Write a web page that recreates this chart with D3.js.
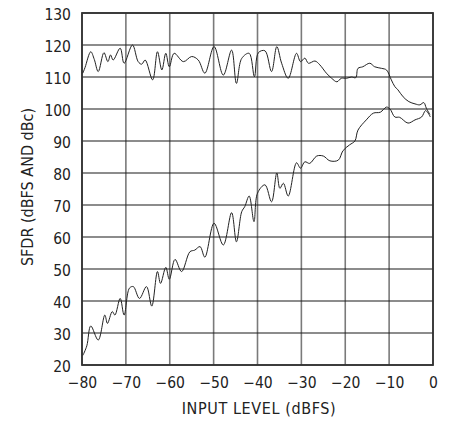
<!DOCTYPE html>
<html>
<head>
<meta charset="utf-8">
<script src="https://cdn.jsdelivr.net/npm/d3@7"></script>
<style>
  body { margin: 0; background: #fff; }
  svg text { font-family: "DejaVu Sans Condensed", "Liberation Sans", Arial, sans-serif; fill: #222; }
</style>
</head>
<body>
<svg id="chart" width="449" height="421"></svg>
<script>
// SFDR in dBFS (upper trace)
var levelUpper = [-79.8,-79.3,-78.0,-77.2,-76.3,-75.0,-74.1,-73.5,-72.9,-71.3,-70.4,-68.5,-67.2,-66.4,-65.6,-63.9,-62.8,-61.8,-60.9,-60.1,-59.0,-56.9,-55.0,-53.5,-52.0,-49.9,-47.8,-45.9,-44.8,-43.6,-41.9,-40.7,-39.8,-38.3,-36.8,-35.6,-34.5,-33.0,-31.1,-30.2,-29.2,-28.4,-26.9,-25.8,-24.3,-23.1,-21.9,-20.9,-19.7,-18.6,-17.6,-17.1,-16.0,-14.4,-13.3,-11.7,-10.6,-9.5,-8.7,-8.0,-6.8,-5.5,-4.1,-3.0,-2.1,-1.5,-0.7];
var sfdrUpper  = [111.2,113,117.9,115.5,111.7,117.6,114.8,116.9,115.3,119,114.3,120,114.8,114,115.3,109.1,117.9,112.2,117.4,113.2,117.4,114.8,116.4,115.3,111.2,119.5,110.6,118.4,108,115.8,117.4,110.1,117.6,118.2,111.7,119.5,114.3,109.6,117.4,114.8,115.9,114.3,115,113.8,111.2,109.6,108.5,109.6,109.6,110,109.8,112.7,113.2,114.3,113.2,112.7,112.2,109.1,107,106,103.8,102.3,101.6,101.3,102,100.2,98.3];

// SFDR in dBc (lower trace)
var levelLower = [-79.8,-78.9,-78.0,-76.3,-74.8,-74.2,-73.1,-72.5,-71.3,-70.4,-69.2,-68.3,-66.9,-65.3,-64.1,-62.8,-62.1,-60.9,-60.1,-58.8,-57.3,-55.4,-54.3,-53.1,-52.0,-49.9,-47.8,-45.9,-44.8,-43.6,-42.9,-41.9,-40.8,-40.0,-38.3,-36.8,-35.6,-34.9,-34.1,-33.0,-31.1,-30.2,-29.2,-28.1,-26.5,-25.0,-23.5,-21.6,-20.5,-19.0,-17.8,-17.1,-15.2,-13.6,-12.0,-10.6,-9.8,-8.7,-7.6,-5.7,-4.1,-2.6,-1.7,-1.0,-0.6];
var sfdrLower  = [23,26,32.2,27.8,35.6,33,36.7,35.6,40.8,35.6,44,44.5,40.8,44.5,38.4,49.2,45.5,50.5,46.8,53,49.2,55.4,55.9,57,53.7,64.3,57.5,67.6,58.5,67.9,69.5,72.8,64.8,73.7,76.3,71,80,75.2,76.8,72.8,83.2,81.5,83.5,83,85.3,85.3,83.8,84,87,88.8,90,93.4,96.6,98.7,99,100.6,100,97.5,97.4,95.6,96.6,97.5,99.5,98.5,97.5];

var xTicks = [-80,-70,-60,-50,-40,-30,-20,-10,0];
var yTicks = [20,30,40,50,60,70,80,90,100,110,120,130];

var margin = {top: 13, right: 16, bottom: 56, left: 82};
var svg = d3.select("#chart");
var width = +svg.attr("width") - margin.left - margin.right;
var height = +svg.attr("height") - margin.top - margin.bottom;

var g = svg.append("g").attr("transform", "translate(" + margin.left + "," + margin.top + ")");

var x = d3.scaleLinear().domain([-80, 0]).range([0, width]);
var y = d3.scaleLinear().domain([20, 130]).range([height, 0]);

// grid
g.selectAll(".vgrid").data(xTicks).enter().append("line")
    .attr("x1", function(d) { return x(d); }).attr("x2", function(d) { return x(d); })
    .attr("y1", 0).attr("y2", height)
    .attr("stroke", "#7a7a7a").attr("stroke-width", 1.6);

g.selectAll(".hgrid").data(yTicks).enter().append("line")
    .attr("x1", 0).attr("x2", width)
    .attr("y1", function(d) { return y(d); }).attr("y2", function(d) { return y(d); })
    .attr("stroke", "#1a1a1a").attr("stroke-width", 1.1);

g.append("rect")
    .attr("width", width).attr("height", height)
    .attr("fill", "none").attr("stroke", "#333").attr("stroke-width", 1.8);

// axes, labels only
var xAxis = g.append("g").attr("transform", "translate(0," + height + ")")
    .call(d3.axisBottom(x).tickValues(xTicks).tickSize(0).tickPadding(12)
        .tickFormat(function(d) { return d === 0 ? "0" : "\u2212" + Math.abs(d); }));
var yAxis = g.append("g")
    .call(d3.axisLeft(y).tickValues(yTicks).tickSize(0).tickPadding(11));
[xAxis, yAxis].forEach(function(a) {
  a.select(".domain").remove();
  a.selectAll("text").attr("font-size", 15.5).attr("fill", "#222")
    .attr("font-family", "'DejaVu Sans Condensed', 'Liberation Sans', Arial, sans-serif");
});
yAxis.selectAll("text").attr("dy", "0.42em");

// traces
var line = d3.line()
    .x(function(d) { return x(d[0]); })
    .y(function(d) { return y(d[1]); })
    .curve(d3.curveCatmullRom.alpha(0.5));

g.append("path")
    .datum(d3.zip(levelUpper, sfdrUpper))
    .attr("d", line).attr("fill", "none").attr("stroke", "#222").attr("stroke-width", 1);
g.append("path")
    .datum(d3.zip(levelLower, sfdrLower))
    .attr("d", line).attr("fill", "none").attr("stroke", "#222").attr("stroke-width", 1);

// titles
svg.append("text")
    .attr("x", 259).attr("y", 414)
    .attr("text-anchor", "middle").attr("font-size", 16).attr("letter-spacing", 0.6)
    .text("INPUT LEVEL (dBFS)");
svg.append("text")
    .attr("transform", "translate(33,187) rotate(-90)")
    .attr("text-anchor", "middle").attr("font-size", 16)
    .text("SFDR (dBFS AND dBc)");
</script>
</body>
</html>
